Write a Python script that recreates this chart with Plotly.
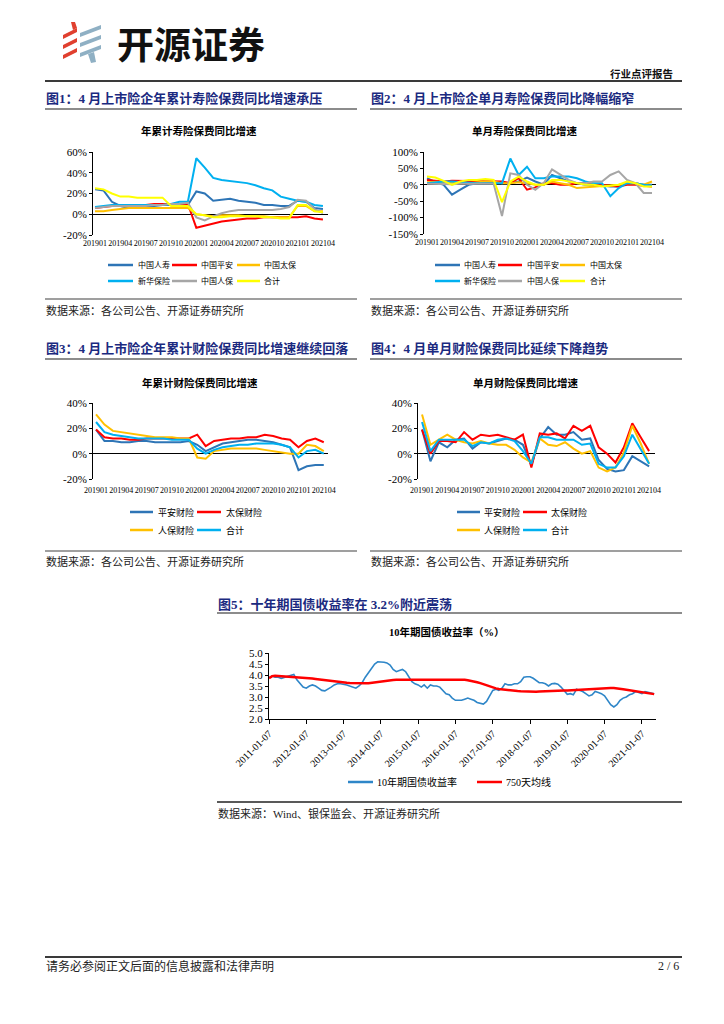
import plotly.graph_objects as go

# page is offset by the browser's default 8px body margin; figure is sized to fit the window
OFF = 8
W, H = 724 - OFF, 1024 - OFF
def X(px): return (px - OFF) / W
def Y(py): return 1 - (py - OFF) / H

# ---------------- data ----------------
months = ['201901','201902','201903','201904','201905','201906','201907','201908','201909','201910','201911','201912',
          '202001','202002','202003','202004','202005','202006','202007','202008','202009','202010','202011','202012',
          '202101','202102','202103','202104']
month_ticks = months[::3]

life_names = ['中国人寿', '中国平安', '中国太保', '新华保险', '中国人保', '合计']
life_colors = ['#2E75B6', '#FF0000', '#FFC000', '#00B0F0', '#A6A6A6', '#FFFF00']

# Fig1: cumulative life premium YoY (%)
c1_gs = [24, 23, 12, 8, 6, 7, 8, 8, 9, 9, 9, 9, 22, 20, 13, 14, 15, 13, 12, 11, 9, 9, 8, 8, 13, 12, 6, 5]
c1_pa = [6, 7, 8, 8, 9, 9, 9, 10, 10, 10, 10, 10, -13, -11, -9, -7, -6, -5, -4, -4, -3, -3, -3, -3, -3, -2, -4, -5]
c1_tb = [3, 3, 4, 5, 6, 6, 6, 6, 6, 6, 6, 6, 0, -1, -2, -1, -1, -1, -2, -2, -2, -3, -3, -3, 8, 8, 3, 3]
c1_xh = [7, 8, 9, 9, 9, 9, 9, 9, 9, 10, 12, 12, 54, 45, 35, 33, 32, 31, 30, 28, 25, 23, 17, 15, 13, 12, 9, 8]
c1_rb = [6, 7, 8, 8, 8, 8, 8, 9, 9, 10, 10, 11, -3, -6, -2, 1, 3, 4, 4, 4, 4, 4, 5, 7, 14, 13, 5, 1]
c1_tot = [25, 24, 20, 17, 17, 16, 16, 16, 16, 8, 8, 8, 0, -1, -3, -3, -2, -2, -2, -2, -3, -3, -4, -4, 9, 9, 3, 2]

# Fig2: single-month life premium YoY (%)
c2_gs = [20, 8, 0, -30, -15, 0, 5, 5, 5, 3, 5, 10, 22, 10, 0, 30, 20, 10, 5, 0, 0, -3, -5, -5, 5, 5, 0, 0]
c2_pa = [15, 12, 10, 12, 12, 12, 12, 10, 10, 10, 5, 20, -15, -8, 5, 5, 0, 0, 5, 5, 0, 0, -3, -5, 0, 0, -3, -5]
c2_tb = [8, 10, 10, 8, 5, 5, 8, 10, 10, 5, 5, 8, 5, 0, 0, 10, 5, 0, -10, -8, -5, -3, 0, 0, 5, 5, 0, 10]
c2_xh = [5, 8, 10, 10, 8, 5, 5, 5, 5, 5, 80, 30, 55, 20, 20, 25, 25, 25, 20, 10, 5, 5, -35, -10, 5, 5, 0, -3]
c2_rb = [3, 2, 2, 2, 3, 3, 3, 3, 3, -95, 35, 30, 0, -15, 5, 47, 30, 15, 5, 5, 10, 10, 30, 41, 15, 5, -25, -25]
c2_tot = [25, 22, 12, 0, 10, 15, 15, 18, 15, -53, 10, 25, 10, 0, 0, 15, 15, 10, 5, 0, 0, -5, -3, 0, 10, 5, -5, -5]

pc_names = ['平安财险', '太保财险', '人保财险', '合计']
pc_colors = ['#2E75B6', '#FF0000', '#FFC000', '#00B0F0']

# Fig3: cumulative P&C premium YoY (%)
c3_pa = [19, 10, 10, 9, 9, 10, 10, 9, 9, 9, 9, 10, 7, 2, 5, 8, 9, 10, 11, 11, 10, 9, 7, 5, -13, -10, -9, -9]
c3_tb = [19, 13, 12, 12, 11, 11, 12, 12, 12, 12, 12, 12, 15, 6, 10, 11, 12, 12, 13, 13, 15, 14, 12, 11, 5, 10, 12, 9]
c3_rb = [31, 23, 18, 17, 16, 15, 14, 13, 13, 13, 12, 12, -3, -4, 2, 3, 4, 4, 4, 4, 3, 2, 1, 0, 0, 7, 6, 2]
c3_tot = [25, 17, 15, 14, 13, 12, 12, 12, 12, 11, 11, 11, 4, 0, 3, 5, 6, 7, 7, 8, 8, 8, 7, 5, -3, 2, 3, 0]

# Fig4: single-month P&C premium YoY (%)
c4_pa = [19, -6, 9, 5, 11, 12, 4, 9, 8, 10, 12, 11, 7, -9, 12, 21, 15, 15, 17, 11, 12, -5, -12, -14, -13, -2, -6, -10]
c4_tb = [19, 0, 10, 10, 9, 17, 11, 15, 14, 15, 13, 11, 15, -11, 16, 15, 16, 12, 22, 18, 22, 5, 0, -7, 5, 24, 13, 2]
c4_rb = [31, 7, 11, 15, 11, 9, 8, 10, 8, 7, 7, 3, -3, -7, 12, 7, 6, 9, 4, 0, 2, -11, -14, -11, 1, 22, 8, -8]
c4_tot = [25, 2, 11, 11, 11, 11, 6, 9, 8, 11, 12, 10, 2, -8, 13, 13, 11, 11, 11, 7, 8, -8, -11, -11, -2, 15, 3, -8]

# Fig5: 10Y government bond yield (%) monthly, and 750-day moving average
bond_dates = [f"{y}-{m:02d}-07" for y in range(2011, 2022) for m in range(1, 13)][:125]
bond_yield = [
    3.88, 3.95, 3.90, 3.90, 3.85, 3.90, 3.95, 4.00, 4.02, 3.78, 3.60, 3.45,
    3.40, 3.50, 3.55, 3.50, 3.40, 3.30, 3.28, 3.35, 3.45, 3.55, 3.60, 3.60,
    3.58, 3.55, 3.50, 3.45, 3.40, 3.50, 3.65, 3.90, 4.10, 4.25, 4.50, 4.60,
    4.60, 4.58, 4.55, 4.45, 4.25, 4.15, 4.20, 4.25, 4.15, 3.90, 3.70, 3.60,
    3.55, 3.45, 3.55, 3.40, 3.55, 3.50, 3.50, 3.45, 3.30, 3.15, 3.10, 2.95,
    2.85, 2.85, 2.85, 2.90, 2.95, 2.90, 2.85, 2.75, 2.70, 2.68, 2.80, 3.05,
    3.30, 3.35, 3.30, 3.40, 3.60, 3.55, 3.55, 3.60, 3.60, 3.70, 3.90, 3.92,
    3.92, 3.85, 3.75, 3.65, 3.65, 3.60, 3.50, 3.60, 3.62, 3.58, 3.45, 3.30,
    3.12, 3.15, 3.10, 3.35, 3.30, 3.25, 3.15, 3.05, 3.10, 3.25, 3.20, 3.15,
    3.05, 2.85, 2.65, 2.55, 2.65, 2.85, 2.95, 3.00, 3.10, 3.15, 3.25, 3.20,
    3.15, 3.25, 3.22, 3.20, 3.15]
bond_ma750 = [
    3.85, 3.95, 3.97, 3.96, 3.95, 3.94, 3.93, 3.93, 3.93, 3.92, 3.91, 3.90,
    3.88, 3.86, 3.84, 3.82, 3.80, 3.78, 3.77, 3.76, 3.74, 3.72, 3.70, 3.68,
    3.66, 3.65, 3.64, 3.63, 3.62, 3.62, 3.62, 3.62, 3.63, 3.65, 3.68, 3.70,
    3.72, 3.74, 3.75, 3.76, 3.77, 3.78, 3.78, 3.79, 3.79, 3.80, 3.80, 3.80,
    3.80, 3.80, 3.80, 3.80, 3.80, 3.80, 3.80, 3.80, 3.80, 3.80, 3.80, 3.80,
    3.80, 3.80, 3.79, 3.78, 3.76, 3.74, 3.70, 3.67, 3.63, 3.58, 3.53, 3.47,
    3.42, 3.39, 3.36, 3.34, 3.32, 3.31, 3.30, 3.28, 3.27, 3.26, 3.25, 3.24,
    3.23, 3.23, 3.24, 3.25, 3.26, 3.27, 3.28, 3.28, 3.29, 3.29, 3.30, 3.30,
    3.30, 3.31, 3.32, 3.33, 3.34, 3.35, 3.36, 3.37, 3.38, 3.39, 3.40, 3.40,
    3.40, 3.41, 3.41, 3.41, 3.40, 3.38, 3.35, 3.33, 3.31, 3.29, 3.27, 3.25,
    3.23, 3.21, 3.19, 3.16, 3.13]
bond_names = ['10年期国债收益率', '750天均线']
year_ticks = [f"{y}-01-07" for y in range(2011, 2022)]

# ---------------- figure ----------------
CJK = "Noto Sans CJK SC"
SERIF_CJK = "Liberation Serif, Noto Sans CJK SC"
NAVY = "#1B2A80"

fig = go.Figure()

def add_lines(xa, ya, xs, series, colors, width=2):
    for s, c in zip(series, colors):
        fig.add_trace(go.Scatter(x=xs, y=s, mode='lines', line=dict(color=c, width=width),
                                 xaxis=xa, yaxis=ya, showlegend=False, hoverinfo='skip'))

add_lines('x', 'y', months, [c1_gs, c1_pa, c1_tb, c1_xh, c1_rb, c1_tot], life_colors)
add_lines('x2', 'y2', months, [c2_gs, c2_pa, c2_tb, c2_xh, c2_rb, c2_tot], life_colors)
add_lines('x3', 'y3', months, [c3_pa, c3_tb, c3_rb, c3_tot], pc_colors)
add_lines('x4', 'y4', months, [c4_pa, c4_tb, c4_rb, c4_tot], pc_colors)
fig.add_trace(go.Scatter(x=bond_dates, y=bond_yield, mode='lines', line=dict(color='#2E86C8', width=1.6),
                         xaxis='x5', yaxis='y5', showlegend=False, hoverinfo='skip'))
fig.add_trace(go.Scatter(x=bond_dates, y=bond_ma750, mode='lines', line=dict(color='#FF0000', width=2.5),
                         xaxis='x5', yaxis='y5', showlegend=False, hoverinfo='skip'))

tickfont_y = dict(family="Liberation Serif", size=11, color='black')
tickfont_x = dict(family="Liberation Serif", size=8, color='black')

def cat_xaxis(dom, rng, anchor, standoff):
    return dict(domain=[X(dom[0]), X(dom[1])], range=rng, type='category', anchor=anchor,
                tickmode='array', tickvals=month_ticks, ticktext=month_ticks, tickangle=0,
                showline=False, ticks='', showgrid=False, zeroline=False, automargin=False,
                tickfont=tickfont_x, ticklabelstandoff=standoff, fixedrange=True)

def pct_yaxis(dom, rng, step, anchor):
    vals = list(range(rng[0], rng[1] + 1, step))
    return dict(domain=[Y(dom[1]), Y(dom[0])], range=rng, anchor=anchor,
                tickmode='array', tickvals=vals, ticktext=[f"{v}%" for v in vals],
                showline=True, linecolor='black', linewidth=1, ticks='outside', ticklen=3,
                tickcolor='black', showgrid=False, zeroline=True, zerolinecolor='black',
                zerolinewidth=1, tickfont=tickfont_y, automargin=False, fixedrange=True)

fig.update_layout(
    width=W, height=H, autosize=False,
    margin=dict(l=0, r=0, t=0, b=0, pad=0, autoexpand=False),
    paper_bgcolor='white', plot_bgcolor='white', showlegend=False,
    xaxis=cat_xaxis((93, 328), [-0.24, 27.6], 'y', 2),
    yaxis=pct_yaxis((152, 235), [-20, 60], 20, 'x'),
    xaxis2=cat_xaxis((424, 656), [-0.36, 27.48], 'y2', 2),
    yaxis2=pct_yaxis((152, 234), [-150, 100], 50, 'x2'),
    xaxis3=cat_xaxis((93, 328), [-0.36, 27.5], 'y3', 5),
    yaxis3=pct_yaxis((403, 479), [-20, 40], 20, 'x3'),
    xaxis4=cat_xaxis((418, 655), [-0.48, 27.7], 'y4', 5),
    yaxis4=pct_yaxis((403, 479), [-20, 40], 20, 'x4'),
    xaxis5=dict(domain=[X(269), X(656)], range=['2011-01-07', '2021-05-25'], type='date', anchor='y5',
                tickmode='array', tickvals=year_ticks, ticktext=year_ticks, tickangle=-45,
                showline=True, linecolor='black', linewidth=1, ticks='outside', ticklen=4,
                tickcolor='black', showgrid=False, zeroline=False, automargin=False,
                tickfont=dict(family="Liberation Serif", size=10, color='black'), fixedrange=True),
    yaxis5=dict(domain=[Y(719), Y(653)], range=[2.0, 5.0], anchor='x5', dtick=0.5, tickformat='.1f',
                showline=True, linecolor='black', linewidth=1, ticks='outside', ticklen=3,
                tickcolor='black', showgrid=False, zeroline=False, tickfont=tickfont_y,
                automargin=False, fixedrange=True),
)

shapes = []
ann = []

def hline(x0, x1, y, color, width):
    shapes.append(dict(type='line', xref='paper', yref='paper', x0=X(x0), x1=X(x1), y0=Y(y), y1=Y(y),
                       line=dict(color=color, width=width)))

def text(x, y, s, size, color='black', family=CJK, xanchor='left', bold=False):
    ann.append(dict(xref='paper', yref='paper', x=X(x), y=Y(y), text=(f"<b>{s}</b>" if bold else s),
                    showarrow=False, xanchor=xanchor, yanchor='middle', borderpad=0,
                    font=dict(family=family, size=size, color=color)))

def legend_item(lx0, lx1, y, color, label, tx, size, width=2.5):
    hline(lx0, lx1, y, color, width)
    text(tx, y, label, size, family=SERIF_CJK)

# --- header ---
for y0 in (28, 38, 48):
    shapes.append(dict(type='path', xref='paper', yref='paper',
                       path=f"M {X(63)},{Y(y0+7)} L {X(77)},{Y(y0)} L {X(77)},{Y(y0+4)} L {X(63)},{Y(y0+11)} Z",
                       fillcolor='#E0402F', line=dict(width=0)))
shapes.append(dict(type='path', xref='paper', yref='paper',
                   path=f"M {X(71)},{Y(22)} L {X(75)},{Y(22)} L {X(77)},{Y(28)} L {X(73)},{Y(30)} Z",
                   fillcolor='#E0402F', line=dict(width=0)))
for y0 in (25, 35, 45):
    shapes.append(dict(type='path', xref='paper', yref='paper',
                       path=f"M {X(80)},{Y(y0+8)} L {X(101)},{Y(y0)} L {X(101)},{Y(y0+4)} L {X(80)},{Y(y0+12)} Z",
                       fillcolor='#8FB0C4', line=dict(width=0)))
shapes.append(dict(type='path', xref='paper', yref='paper',
                   path=f"M {X(88)},{Y(54)} L {X(94)},{Y(52)} L {X(96)},{Y(62)} L {X(91)},{Y(63)} Z",
                   fillcolor='#8FB0C4', line=dict(width=0)))
text(116, 43, "开源证券", 37, color='#111111', bold=True)
text(674, 73, "行业点评报告", 10.5, color='#111111', xanchor='right', bold=True)
hline(45, 682, 81, '#3A3A3A', 2)

# --- section titles ---
TS = 13
text(45, 99, "图1：4 月上市险企年累计寿险保费同比增速承压", TS, color=NAVY, family=SERIF_CJK, bold=True)
text(370, 99, "图2：4 月上市险企单月寿险保费同比降幅缩窄", TS, color=NAVY, family=SERIF_CJK, bold=True)
hline(45, 357, 109, '#8C8C8C', 2)
hline(370, 682, 109, '#8C8C8C', 2)

text(45, 348, "图3：4 月上市险企年累计财险保费同比增速继续回落", TS, color=NAVY, family=SERIF_CJK, bold=True)
text(370, 348, "图4：4 月单月财险保费同比延续下降趋势", TS, color=NAVY, family=SERIF_CJK, bold=True)
hline(45, 357, 359, '#8C8C8C', 2)
hline(370, 682, 359, '#8C8C8C', 2)

text(217, 604, "图5：十年期国债收益率在 3.2%附近震荡", TS, color=NAVY, family=SERIF_CJK, bold=True)
hline(217, 682, 613, '#8C8C8C', 2)

# --- chart titles ---
text(199, 130, "年累计寿险保费同比增速", 10.5, bold=True, xanchor='center')
text(525, 130, "单月寿险保费同比增速", 10.5, bold=True, xanchor='center')
text(200, 382, "年累计财险保费同比增速", 10.5, bold=True, xanchor='center')
text(526, 382, "单月财险保费同比增速", 10.5, bold=True, xanchor='center')
text(447, 632, "10年期国债收益率（%）", 10.5, bold=True, xanchor='center', family=SERIF_CJK)

# --- legends ---
cols1 = [(108, 133, 137), (172, 197, 200), (237, 260, 263)]
rows1 = [265, 281]
for i, (nm, c) in enumerate(zip(life_names, life_colors)):
    a, b, t = cols1[i % 3]
    legend_item(a, b, rows1[i // 3], c, nm, t, 8)
cols2 = [(435, 460, 463), (498, 522, 526), (560, 585, 589)]
for i, (nm, c) in enumerate(zip(life_names, life_colors)):
    a, b, t = cols2[i % 3]
    legend_item(a, b, rows1[i // 3], c, nm, t, 8)

cols3 = [(130, 153, 157), (197, 221, 225)]
rows3 = [512, 530]
for i, (nm, c) in enumerate(zip(pc_names, pc_colors)):
    a, b, t = cols3[i % 2]
    legend_item(a, b, rows3[i // 2], c, nm, t, 9)
cols4 = [(457, 480, 483), (523, 547, 550)]
for i, (nm, c) in enumerate(zip(pc_names, pc_colors)):
    a, b, t = cols4[i % 2]
    legend_item(a, b, rows3[i // 2], c, nm, t, 9)

legend_item(348, 373, 782, '#2E86C8', bond_names[0], 376, 10)
legend_item(477, 502, 782, '#FF0000', bond_names[1], 505, 10)

# --- data sources ---
DS = 11
hline(45, 357, 299, '#7F7F7F', 1.5)
hline(370, 682, 299, '#7F7F7F', 1.5)
text(45, 310, "数据来源：各公司公告、开源证券研究所", DS, color='#222222', family=SERIF_CJK)
text(370, 310, "数据来源：各公司公告、开源证券研究所", DS, color='#222222', family=SERIF_CJK)
hline(45, 357, 551, '#7F7F7F', 1.5)
hline(370, 682, 551, '#7F7F7F', 1.5)
text(45, 561, "数据来源：各公司公告、开源证券研究所", DS, color='#222222', family=SERIF_CJK)
text(370, 561, "数据来源：各公司公告、开源证券研究所", DS, color='#222222', family=SERIF_CJK)
hline(217, 682, 802, '#222222', 1.5)
text(217, 813, "数据来源：Wind、银保监会、开源证券研究所", DS, color='#222222', family=SERIF_CJK)

# --- footer ---
hline(45, 682, 957, '#3A3A3A', 2)
text(45, 966, "请务必参阅正文后面的信息披露和法律声明", 12, color='#222222', family=SERIF_CJK)
text(680, 966, "2 / 6", 12, color='#222222', family=SERIF_CJK, xanchor='right')

fig.update_layout(shapes=shapes, annotations=ann)
fig.write_html("out.html")
